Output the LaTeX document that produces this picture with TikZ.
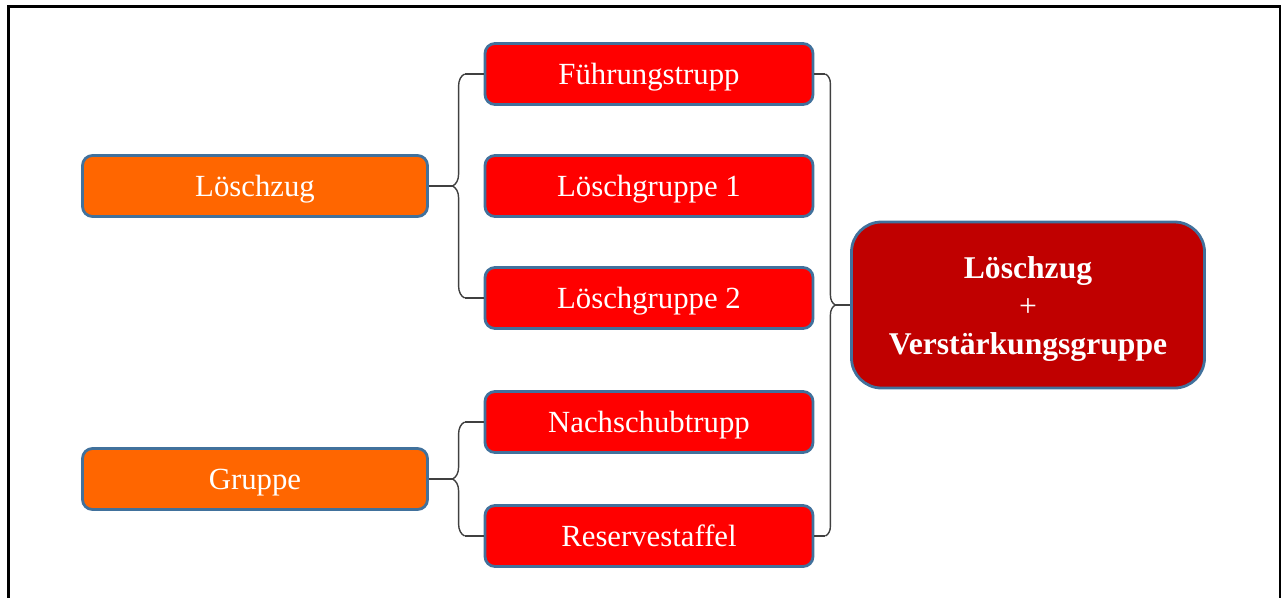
\documentclass[tikz,border=0pt]{standalone}
\usepackage{fontspec}
\setmainfont{Liberation Serif}
\usepackage{tikz}
\usetikzlibrary{positioning,calc,decorations.pathreplacing}
\definecolor{randblau}{RGB}{65,113,156}
\definecolor{zugorange}{RGB}{255,102,0}
\definecolor{truppRot}{RGB}{255,0,0}
\definecolor{dunkelrot}{RGB}{192,0,0}

\begin{document}
\begin{tikzpicture}[line width=0.8pt,node distance=2.24cm,
  every node/.style={text=white,font=\fontsize{17.5}{21}\selectfont},
  zugbox/.style={draw=randblau,line width=1.6pt,rounded corners=0.2cm,fill=zugorange,
    minimum width=6.9cm,minimum height=1.22cm,text height=15.5pt,text depth=3.9pt},
  truppbox/.style={draw=randblau,line width=1.6pt,rounded corners=0.2cm,fill=truppRot,
    minimum width=6.56cm,minimum height=1.22cm,text height=15.5pt,text depth=3.9pt},
  gesamtbox/.style={draw=randblau,line width=1.6pt,rounded corners=0.6cm,fill=dunkelrot,
    minimum width=7.06cm,minimum height=3.32cm,align=center,font=\fontsize{18}{21.6}\selectfont},
  klammer/.style={black!75,decorate,decoration={brace,amplitude=0.24cm}},
  rklammer/.style={black!75,decorate,decoration={brace,amplitude=0.2cm}}]
 %\tikzstyle{every node}=[text=white]

 \useasboundingbox (0,0) rectangle (25.64,-11.94);
 \draw[line width=1.4pt] (0.17,-12.3) |- (25.6,-0.13) -- (25.6,-12.3);

 \node[truppbox] (fuehrung) at (12.98,-1.48) {Führungstrupp};
 \node[truppbox] (lg1) [below of=fuehrung] {Löschgruppe 1};
 \node[truppbox] (lg2) [below of=lg1] {Löschgruppe 2};
 \node[truppbox] (nachschub) [below of=lg2,node distance=2.48cm] {Nachschubtrupp};
 \node[truppbox] (reserve) [below of=nachschub,node distance=2.28cm] {Reservestaffel};

 \node[zugbox] (loeschzug) [left of=lg1,node distance=7.88cm] {Löschzug};
 \node[zugbox] (gruppe) at ($(nachschub)!0.5!(reserve)+(-7.88,0)$) {Gruppe};

 \node[gesamtbox] (gesamt) at ($(fuehrung)!0.5!(reserve)+(7.58,0)$)
   {\rule{0pt}{17pt}\textbf{Löschzug}\\+\\\textbf{Verstärkungsgruppe}};

 % Klammer Loeschzug
 \draw[black!75] (fuehrung.west) -- ++(-0.38,0) coordinate (lo);
 \draw[black!75] (lg2.west) -- ++(-0.38,0) coordinate (lu);
 \draw[klammer] (lu) -- (lo);
 \coordinate (lspitze) at ($(lo)!0.5!(lu)+(-0.24,0)$);
 \draw[black!75] (loeschzug.east) -- (lspitze);

 % Klammer Gruppe
 \draw[black!75] (nachschub.west) -- ++(-0.38,0) coordinate (go);
 \draw[black!75] (reserve.west) -- ++(-0.38,0) coordinate (gu);
 \draw[klammer] (gu) -- (go);
 \coordinate (gspitze) at ($(go)!0.5!(gu)+(-0.24,0)$);
 \draw[black!75] (gruppe.east) -- (gspitze);

 % Klammer rechts
 \draw[black!75] (fuehrung.east) -- ++(0.22,0) coordinate (ro);
 \draw[black!75] (reserve.east) -- ++(0.22,0) coordinate (ru);
 \draw[rklammer] (ro) -- (ru);
 \coordinate (rspitze) at ($(ro)!0.5!(ru)+(0.2,0)$);
 \draw[black!75] (rspitze) -- (gesamt.west);
\end{tikzpicture}
\end{document}
